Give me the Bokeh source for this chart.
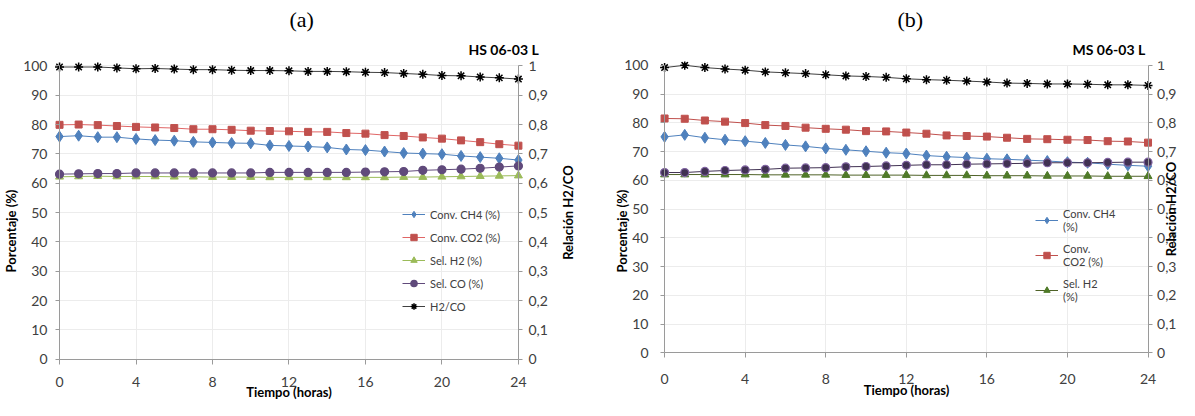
import math
from bokeh.plotting import figure
from bokeh.models import (Range1d, LinearAxis, FixedTicker, Grid, Legend, LegendItem,
                          CustomJSTickFormatter, Title, Label)
from bokeh.layouts import row
from bokeh.embed import file_html
from bokeh.resources import INLINE

# ---------------- data ----------------
hours = list(range(25))
x_ticks = [0, 4, 8, 12, 16, 20, 24]
pct_ticks = [0, 10, 20, 30, 40, 50, 60, 70, 80, 90, 100]
ratio_ticks = [0, 0.1, 0.2, 0.3, 0.4, 0.5, 0.6, 0.7, 0.8, 0.9, 1.0]

series_labels = ["Conv. CH4 (%)", "Conv. CO2 (%)", "Sel. H2 (%)", "Sel. CO (%)", "H2/CO"]
legend_labels_b = ["Conv. CH4\n(%)", "Conv.\nCO2 (%)", "Sel. H2\n(%)"]

# (a) HS 06-03 L
a_ch4 = [75.9, 76.2, 75.7, 75.7, 75.1, 74.7, 74.5, 74.1, 73.9, 73.7, 73.6, 72.9, 72.7,
         72.5, 72.2, 71.5, 71.3, 70.8, 70.3, 70.1, 69.9, 69.3, 68.9, 68.5, 67.9]
a_co2 = [79.9, 80.0, 79.8, 79.5, 79.2, 79.0, 78.8, 78.4, 78.4, 78.2, 77.9, 77.8, 77.7,
         77.5, 77.5, 77.1, 76.9, 76.4, 76.1, 75.6, 75.2, 74.6, 74.0, 73.3, 72.8]
a_selh2 = [62.2, 62.3, 62.4, 62.3, 62.3, 62.3, 62.2, 62.2, 62.1, 62.1, 62.1, 62.0, 62.0,
           62.0, 62.0, 62.0, 62.0, 62.0, 62.1, 62.1, 62.2, 62.3, 62.4, 62.5, 62.6]
a_selco = [63.1, 63.2, 63.3, 63.3, 63.5, 63.5, 63.5, 63.5, 63.5, 63.5, 63.5, 63.7, 63.7,
           63.7, 63.7, 63.7, 63.8, 63.9, 64.0, 64.4, 64.6, 64.8, 65.1, 65.5, 65.9]
a_h2co = [0.996, 0.996, 0.996, 0.993, 0.990, 0.991, 0.989, 0.987, 0.987, 0.985, 0.984, 0.984, 0.983,
          0.981, 0.981, 0.980, 0.978, 0.977, 0.974, 0.971, 0.967, 0.966, 0.962, 0.959, 0.955]

# (b) MS 06-03 L
b_ch4 = [75.1, 75.8, 74.8, 74.1, 73.6, 73.0, 72.3, 71.8, 71.1, 70.6, 70.1, 69.6, 69.3,
         68.6, 68.2, 67.9, 67.5, 67.3, 67.0, 66.7, 66.3, 66.1, 65.6, 65.2, 64.9]
b_co2 = [81.5, 81.4, 80.8, 80.4, 79.9, 79.2, 78.9, 78.3, 77.9, 77.6, 77.1, 77.0, 76.6,
         76.2, 75.6, 75.4, 75.2, 74.8, 74.4, 74.3, 74.1, 74.0, 73.6, 73.5, 73.1]
b_selh2 = [62.0, 62.0, 62.0, 62.0, 62.0, 61.9, 61.9, 61.9, 61.9, 61.8, 61.8, 61.8, 61.8,
           61.7, 61.7, 61.7, 61.6, 61.6, 61.6, 61.5, 61.5, 61.5, 61.4, 61.4, 61.4]
b_selco = [62.7, 62.7, 63.1, 63.4, 63.6, 63.8, 64.2, 64.3, 64.4, 64.7, 64.8, 65.0, 65.2,
           65.4, 65.4, 65.6, 65.7, 65.8, 65.9, 66.1, 66.1, 66.1, 66.2, 66.3, 66.3]
b_h2co = [0.992, 1.000, 0.992, 0.987, 0.983, 0.977, 0.974, 0.971, 0.967, 0.963, 0.961, 0.958, 0.953,
          0.950, 0.948, 0.945, 0.942, 0.938, 0.937, 0.935, 0.935, 0.934, 0.932, 0.932, 0.930]

FONT = "Lato"
AXIS_COLOR = "#9a9a9a"
GRID_COLOR = "#ececec"
TICK_TEXT = "#404040"
INSET = 8   # the frame stops this many pixels short of the canvas' right and bottom edges

ratio_fmt = CustomJSTickFormatter(code="return (Math.round(tick*10)/10).toString().replace('.', ',');")
blank_fmt = CustomJSTickFormatter(code="return '';")


def text_style(ax, standoff, label_standoff):
    ax.minor_tick_line_color = None
    ax.major_tick_in = 0
    ax.major_label_standoff = standoff
    ax.major_label_text_font = FONT
    ax.major_label_text_font_size = "14px"
    ax.major_label_text_color = TICK_TEXT
    ax.axis_label_text_font = FONT
    ax.axis_label_text_font_size = "13px"
    ax.axis_label_text_font_style = "bold"
    ax.axis_label_text_color = "#000000"
    ax.axis_label_standoff = label_standoff


def make_panel(g, letter, sample, data, colors, legend_labels, legend_loc):
    # pixel geometry of the plot (relative to this figure's canvas)
    W, H = g["w"], 400
    fl, ft = g["l"], g["t"]               # frame left / top
    fr, fb = W - INSET, H - INSET         # frame right / bottom
    x0px, x24px = g["x0"], g["x24"]       # canvas x of hour 0 and hour 24
    y0px, y100px = g["y0"], g["y100"]     # canvas y of 0 % and 100 %
    kx = (x24px - x0px) / 24.0
    ky = (y0px - y100px) / 100.0
    xr = Range1d(-(x0px - fl) / kx, 24 + (fr - x24px) / kx)
    yr = Range1d(-(fb - y0px) / ky, 100 + (y100px - ft) / ky)

    p = figure(width=W, height=H, x_range=xr, y_range=yr,
               x_axis_type=None, y_axis_type=None,
               toolbar_location=None, output_backend="svg",
               min_border=0, min_border_left=fl, min_border_right=0,
               min_border_top=ft, min_border_bottom=0,
               outline_line_color=None)
    p.extra_y_ranges = {"ratio": Range1d(yr.start / 100.0, yr.end / 100.0)}

    # grids
    p.add_layout(Grid(dimension=1, ticker=FixedTicker(ticks=pct_ticks), grid_line_color=GRID_COLOR,
                      cross_bounds=(0, 24)))
    p.add_layout(Grid(dimension=0, ticker=FixedTicker(ticks=x_ticks), grid_line_color=GRID_COLOR,
                      cross_bounds=(0, 100)))

    # left axis: rule at x = 0, texts on the left panel
    yline = LinearAxis(ticker=FixedTicker(ticks=pct_ticks), bounds=(0, 100), fixed_location=0,
                       formatter=blank_fmt, axis_line_color=AXIS_COLOR, major_tick_line_color=AXIS_COLOR,
                       minor_tick_line_color=None, major_tick_in=0, major_tick_out=4)
    p.add_layout(yline, "left")
    ytext = LinearAxis(ticker=FixedTicker(ticks=pct_ticks), bounds=(0, 100), axis_label="Porcentaje (%)",
                       axis_line_color=None, major_tick_line_color=None, major_tick_out=0)
    text_style(ytext, g["ly_so"], g["ly_lso"])
    p.add_layout(ytext, "left")

    # bottom axis at y = 0 (its texts fall inside the frame, below zero)
    xax = LinearAxis(ticker=FixedTicker(ticks=x_ticks), bounds=(0, 24), fixed_location=0,
                     axis_label="Tiempo (horas)", axis_line_color=AXIS_COLOR,
                     major_tick_line_color=AXIS_COLOR, major_tick_out=5)
    text_style(xax, g["x_so"], g["x_lso"])
    p.add_layout(xax, "below")

    # right axis at x = 24 (texts inside the frame, right of 24 h)
    rax = LinearAxis(y_range_name="ratio", ticker=FixedTicker(ticks=ratio_ticks), bounds=(0, 1),
                     fixed_location=24, formatter=ratio_fmt, axis_line_color=AXIS_COLOR,
                     major_tick_line_color=AXIS_COLOR, major_tick_out=4)
    text_style(rax, g["r_so"], 0)
    p.add_layout(rax, "right")
    p.add_layout(Label(x=24 + (g["rl_x"] - x24px) / kx, y=50, text="Relación H2/CO", angle=math.pi / 2,
                       text_align="center", text_baseline="middle", text_font=FONT,
                       text_font_size="13px", text_font_style="bold", text_color="#000000"))

    # titles (first added is nearest the frame)
    p.add_layout(Title(text=sample, align="left", offset=g["s_off"], text_font=FONT,
                       text_font_size="14px", text_font_style="bold", text_color="#000000",
                       standoff=7), "above")
    p.add_layout(Title(text=letter, align="left", offset=g["l_off"], text_font="Liberation Serif",
                       text_font_size="22px", text_font_style="normal", text_color="#000000",
                       standoff=8), "above")

    ch4, co2, selh2, selco, h2co = data
    r = []
    l1 = p.line(hours, ch4, line_color=colors["ch4"], line_width=1)
    s1 = p.scatter(hours, ch4, marker="diamond", size=11, fill_color=colors["ch4"], line_color=colors["ch4"])
    r.append([l1, s1])
    l2 = p.line(hours, co2, line_color=colors["co2_line"], line_width=1)
    s2 = p.scatter(hours, co2, marker="square", size=7, fill_color=colors["co2"], line_color=colors["co2"])
    r.append([l2, s2])
    l3 = p.line(hours, selh2, line_color=colors["h2_line"], line_width=1)
    s3 = p.scatter(hours, selh2, marker="triangle", size=8, fill_color=colors["h2"], line_color=colors["h2"])
    r.append([l3, s3])
    l4 = p.line(hours, selco, line_color=colors["co_line"], line_width=1)
    s4 = p.scatter(hours, selco, marker="circle", size=8, fill_color=colors["co"], line_color=colors["co_edge"],
                   line_width=1.2)
    r.append([l4, s4])
    l5 = p.line(hours, h2co, line_color="#404040", line_width=1, y_range_name="ratio")
    s5 = p.scatter(hours, h2co, marker="asterisk", size=9, line_color="#000000", line_width=1.5,
                   y_range_name="ratio")
    r.append([l5, s5])

    items = [LegendItem(label=lab, renderers=rr) for lab, rr in zip(legend_labels, r)]
    leg = Legend(items=items, location=legend_loc, border_line_color=None, background_fill_alpha=0,
                 padding=0, margin=0, spacing=g["leg_sp"], label_standoff=5, glyph_width=23,
                 glyph_height=16, label_height=16, label_text_font=FONT, label_text_font_size="11px",
                 label_text_color="#404040")
    p.add_layout(leg)
    return p


# canvas-pixel geometry (figure (a) starts at page x 8, figure (b) at page x 595; both at page y 8)
ga = dict(w=587, l=48, t=56, x0=54, x24=510.3, y0=351.2, y100=60.3,
          ly_so=6, ly_lso=1, x_so=13, x_lso=-7, r_so=6, rl_x=560,
          s_off=415, l_off=236, leg_sp=7)
gb = dict(w=592, l=71, t=60, x0=77, x24=553, y0=345.3, y100=63.7,
          ly_so=10, ly_lso=-9, x_so=16, x_lso=-5, r_so=5, rl_x=576,
          s_off=414, l_off=239, leg_sp=9)

colors_a = dict(ch4="#4f81bd", co2="#c0504d", co2_line="#e06666", h2="#9bbb59", h2_line="#9bbb59",
                co="#604a7b", co_edge="#604a7b", co_line="#604a7b")
colors_b = dict(ch4="#4f81bd", co2="#c0504d", co2_line="#c0504d", h2="#4f7a28", h2_line="#4f6228",
                co="#403152", co_edge="#8064a2", co_line="#403152")

pa = make_panel(ga, "(a)", "HS 06-03 L", [a_ch4, a_co2, a_selh2, a_selco, a_h2co], colors_a,
                series_labels, (349, 86))
pb = make_panel(gb, "(b)", "MS 06-03 L", [b_ch4, b_co2, b_selh2, b_selco, b_h2co], colors_b,
                legend_labels_b, (377, 97))

layout = row(pa, pb)
open("out.html", "w").write(file_html(layout, INLINE))
